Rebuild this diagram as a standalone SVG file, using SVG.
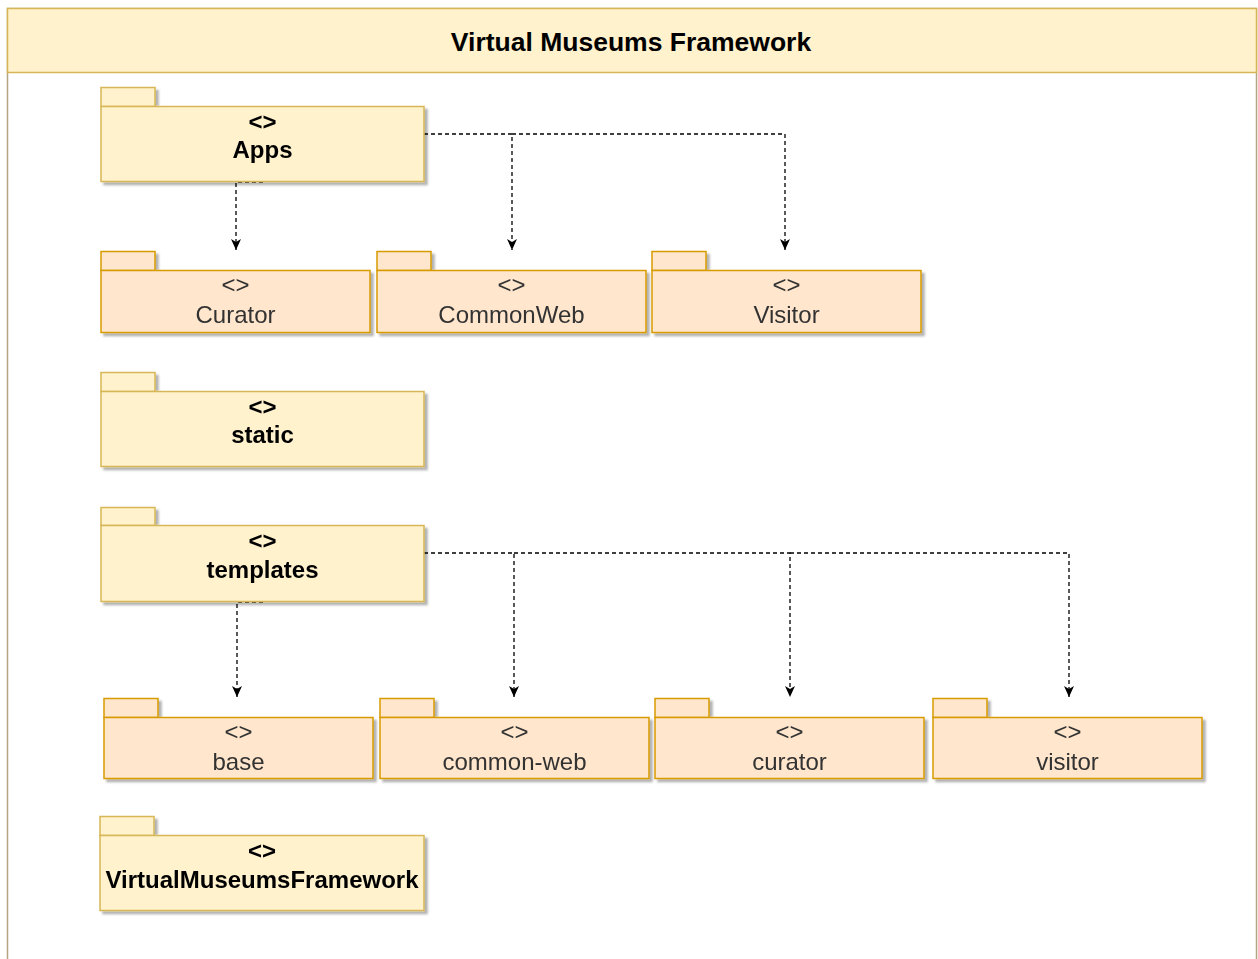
<svg xmlns="http://www.w3.org/2000/svg" width="1258" height="959" viewBox="0 0 1258 959">
  <style>
    .frame { fill: #ffffff; stroke: #b3a57f; stroke-width: 1.5; }
    .header { fill: #fff2cc; stroke: #d6b656; stroke-width: 1.5; }
    .title { font-family: "Liberation Sans", Arial, sans-serif; font-size: 26.5px; font-weight: bold; fill: #000; text-anchor: middle; }
    .pkg-y { fill: #fff2cc; stroke: #d6b656; stroke-width: 1.5; }
    .pkg-o { fill: #ffe6cc; stroke: #d79b00; stroke-width: 1.5; }
    .lbl-y { font-family: "Liberation Sans", Arial, sans-serif; font-size: 24px; font-weight: bold; fill: #000; text-anchor: middle; }
    .lbl-o { font-family: "Liberation Sans", Arial, sans-serif; font-size: 24px; fill: #333; text-anchor: middle; }
    .dep { fill: none; stroke: #000; stroke-width: 1.3; stroke-dasharray: 4 3; }
  </style>
  <defs>
    <filter id="shadow" x="-5%" y="-10%" width="115%" height="130%">
      <feDropShadow dx="3" dy="3" stdDeviation="0.8" flood-color="#000" flood-opacity="0.3"/>
    </filter>
    <!-- open-notched block arrowhead, drawn in user units -->
    <marker id="arrow" viewBox="0 0 12 12" markerWidth="12" markerHeight="12" refX="11" refY="6" orient="auto" markerUnits="userSpaceOnUse">
      <path d="M0,1 L11,6 L0,11 L3,6 Z" fill="#000"/>
    </marker>
  </defs>

  <!-- outer container -->
  <g id="container">
    <rect class="frame" x="7.5" y="8.5" width="1249" height="1000"/>
    <rect class="header" x="7.5" y="8.5" width="1249" height="64"/>
    <text class="title" x="631" y="51">Virtual Museums Framework</text>
  </g>

  <!-- connectors -->
  <g id="connectors">
    <path class="dep" d="M263,182 H236 V250" marker-end="url(#arrow)"/>
    <path class="dep" d="M424,134 H512 V250" marker-end="url(#arrow)"/>
    <path class="dep" d="M512,134 H785 V250" marker-end="url(#arrow)"/>
    <path class="dep" d="M263,602 H237 V697" marker-end="url(#arrow)"/>
    <path class="dep" d="M424,553 H514 V697" marker-end="url(#arrow)"/>
    <path class="dep" d="M514,553 H790 V697" marker-end="url(#arrow)"/>
    <path class="dep" d="M790,553 H1069 V697" marker-end="url(#arrow)"/>
  </g>

  <!-- packages -->
  <g id="apps" filter="url(#shadow)">
    <rect class="pkg-y" x="101" y="87.5" width="54" height="19"/>
    <rect class="pkg-y" x="101" y="106.5" width="323" height="75"/>
    <text class="lbl-y" x="262.5" y="130">&lt;&gt;</text>
    <text class="lbl-y" x="262.5" y="158">Apps</text>
  </g>

  <g id="curator-app" filter="url(#shadow)">
    <rect class="pkg-o" x="101" y="251.5" width="54" height="19"/>
    <rect class="pkg-o" x="101" y="270.5" width="269" height="62"/>
    <text class="lbl-o" x="235.5" y="293">&lt;&gt;</text>
    <text class="lbl-o" x="235.5" y="323">Curator</text>
  </g>

  <g id="commonweb-app" filter="url(#shadow)">
    <rect class="pkg-o" x="377" y="251.5" width="54" height="19"/>
    <rect class="pkg-o" x="377" y="270.5" width="269" height="62"/>
    <text class="lbl-o" x="511.5" y="293">&lt;&gt;</text>
    <text class="lbl-o" x="511.5" y="323">CommonWeb</text>
  </g>

  <g id="visitor-app" filter="url(#shadow)">
    <rect class="pkg-o" x="652" y="251.5" width="54" height="19"/>
    <rect class="pkg-o" x="652" y="270.5" width="269" height="62"/>
    <text class="lbl-o" x="786.5" y="293">&lt;&gt;</text>
    <text class="lbl-o" x="786.5" y="323">Visitor</text>
  </g>

  <g id="static" filter="url(#shadow)">
    <rect class="pkg-y" x="101" y="372.5" width="54" height="19"/>
    <rect class="pkg-y" x="101" y="391.5" width="323" height="75"/>
    <text class="lbl-y" x="262.5" y="415">&lt;&gt;</text>
    <text class="lbl-y" x="262.5" y="443">static</text>
  </g>

  <g id="templates" filter="url(#shadow)">
    <rect class="pkg-y" x="101" y="507.5" width="54" height="18"/>
    <rect class="pkg-y" x="101" y="525.5" width="323" height="76"/>
    <text class="lbl-y" x="262.5" y="549">&lt;&gt;</text>
    <text class="lbl-y" x="262.5" y="578">templates</text>
  </g>

  <g id="base-tpl" filter="url(#shadow)">
    <rect class="pkg-o" x="104" y="698.5" width="54" height="19"/>
    <rect class="pkg-o" x="104" y="717.5" width="269" height="61"/>
    <text class="lbl-o" x="238.5" y="740">&lt;&gt;</text>
    <text class="lbl-o" x="238.5" y="770">base</text>
  </g>

  <g id="commonweb-tpl" filter="url(#shadow)">
    <rect class="pkg-o" x="380" y="698.5" width="54" height="19"/>
    <rect class="pkg-o" x="380" y="717.5" width="269" height="61"/>
    <text class="lbl-o" x="514.5" y="740">&lt;&gt;</text>
    <text class="lbl-o" x="514.5" y="770">common-web</text>
  </g>

  <g id="curator-tpl" filter="url(#shadow)">
    <rect class="pkg-o" x="655" y="698.5" width="54" height="19"/>
    <rect class="pkg-o" x="655" y="717.5" width="269" height="61"/>
    <text class="lbl-o" x="789.5" y="740">&lt;&gt;</text>
    <text class="lbl-o" x="789.5" y="770">curator</text>
  </g>

  <g id="visitor-tpl" filter="url(#shadow)">
    <rect class="pkg-o" x="933" y="698.5" width="54" height="19"/>
    <rect class="pkg-o" x="933" y="717.5" width="269" height="61"/>
    <text class="lbl-o" x="1067.5" y="740">&lt;&gt;</text>
    <text class="lbl-o" x="1067.5" y="770">visitor</text>
  </g>

  <g id="virtualmuseumsframework" filter="url(#shadow)">
    <rect class="pkg-y" x="100" y="816.5" width="54" height="19"/>
    <rect class="pkg-y" x="100" y="835.5" width="324" height="75"/>
    <text class="lbl-y" x="262" y="859">&lt;&gt;</text>
    <text class="lbl-y" x="262" y="888">VirtualMuseumsFramework</text>
  </g>
</svg>
